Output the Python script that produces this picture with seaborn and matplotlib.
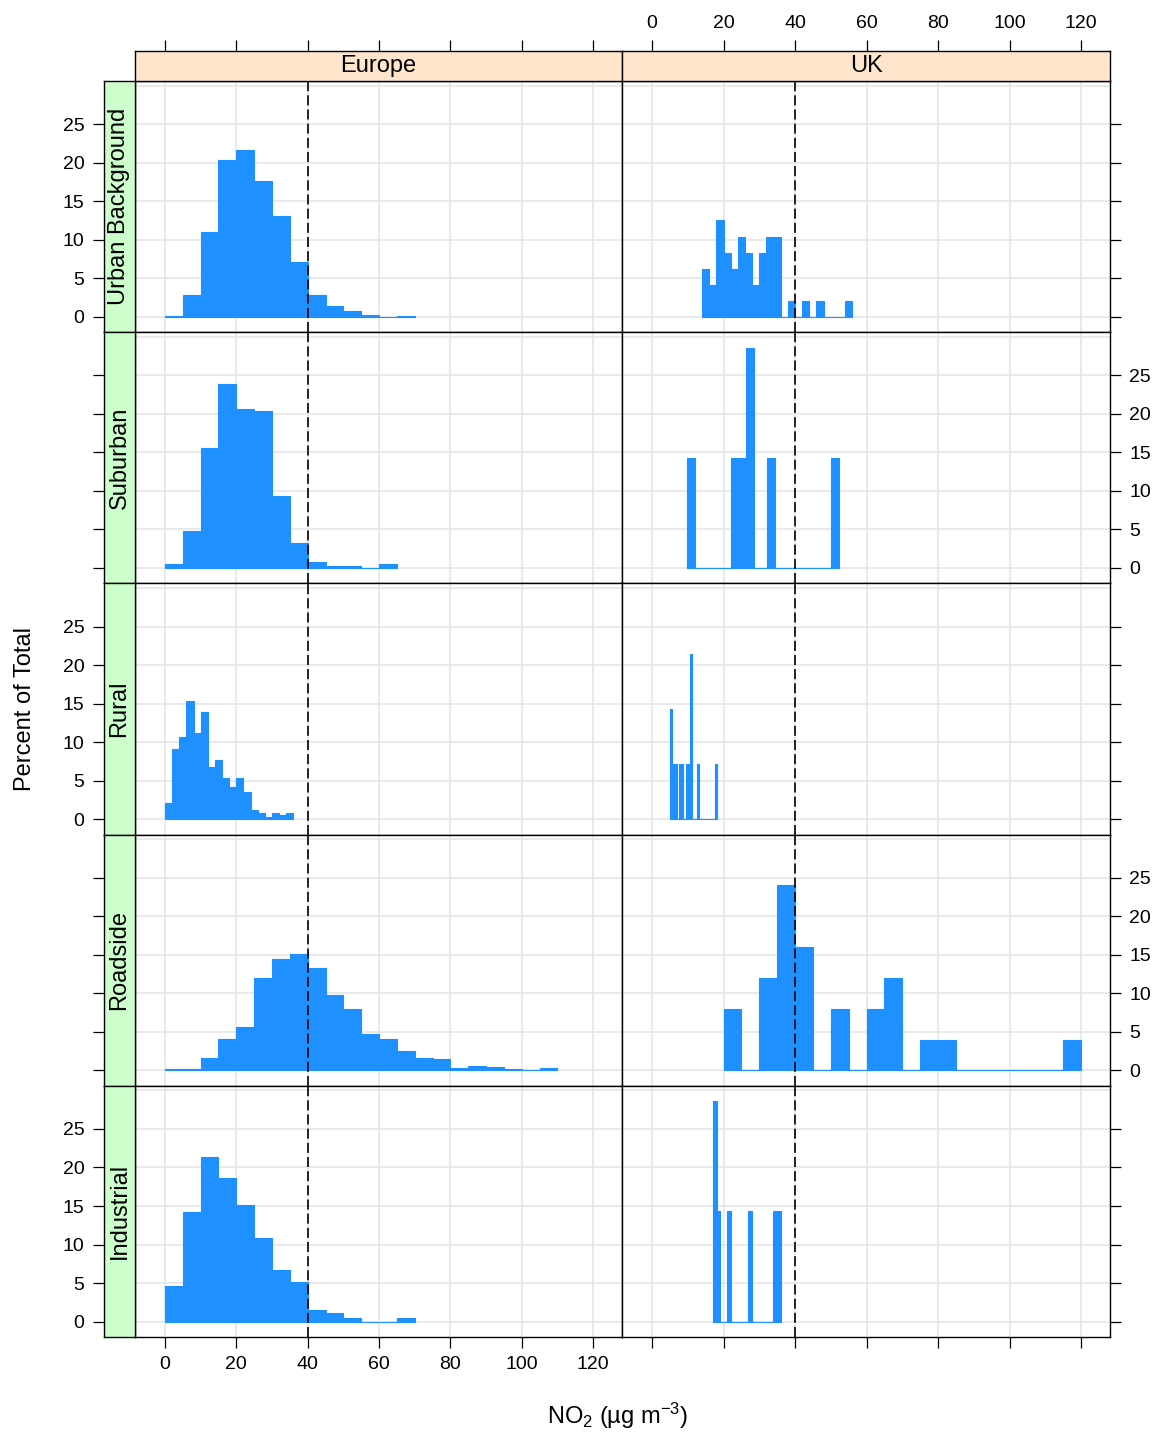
import numpy as np
import pandas as pd
import matplotlib
matplotlib.use("Agg")
import matplotlib.pyplot as plt
import seaborn as sns

sns.set_theme(style="white")
plt.rcParams['font.family'] = ['Liberation Sans', 'DejaVu Sans']
plt.rcParams['mathtext.fontset'] = 'custom'
plt.rcParams['mathtext.rm'] = 'Liberation Sans'
plt.rcParams['mathtext.it'] = 'Liberation Sans:italic'

# ---------------- data ----------------
regions = ["Europe", "UK"]
site_types = ["Urban Background", "Suburban", "Rural", "Roadside", "Industrial"]
x_ticks = [0, 20, 40, 60, 80, 100, 120]
y_ticks = [0, 5, 10, 15, 20, 25]
x_grid = [0, 20, 40, 60, 80, 100, 120]
y_grid = [0, 5, 10, 15, 20, 25, 30]
limit_value = 40

# Europe: bin edges and percent of total
eu_ub_edges = [0, 5, 10, 15, 20, 25, 30, 35, 40, 45, 50, 55, 60, 65, 70]
eu_ub_pct = [0.13, 2.86, 11.0, 20.3, 21.7, 17.6, 13.1, 7.14, 2.86, 1.43, 0.7, 0.26, 0.0, 0.13]

eu_sub_edges = [0, 5, 10, 15, 20, 25, 30, 35, 40, 45, 50, 55, 60, 65]
eu_sub_pct = [0.52, 4.8, 15.6, 23.9, 20.6, 20.4, 9.35, 3.25, 0.78, 0.26, 0.26, 0.0, 0.52]

eu_rur_edges = [0, 2, 4, 6, 8, 10, 12, 14, 16, 18, 20, 22, 24, 26, 28, 30, 32, 34, 36]
eu_rur_pct = [2.08, 9.09, 10.65, 15.3, 11.2, 13.9, 6.75, 7.66, 5.32, 4.16, 5.32, 3.5,
              1.17, 0.78, 0.26, 0.78, 0.52, 0.78]

eu_road_edges = [0, 5, 10, 15, 20, 25, 30, 35, 40, 45, 50, 55, 60, 65, 70, 75, 80,
                 85, 90, 95, 100, 105, 110]
eu_road_pct = [0.17, 0.17, 1.6, 4.07, 5.63, 12.0, 14.46, 15.1, 13.3, 9.78, 7.97, 4.72,
               4.07, 2.51, 1.6, 1.47, 0.3, 0.56, 0.43, 0.17, 0.05, 0.3]

eu_ind_edges = [0, 5, 10, 15, 20, 25, 30, 35, 40, 45, 50, 55, 60, 65, 70]
eu_ind_pct = [4.6, 14.2, 21.3, 18.6, 15.1, 10.8, 6.67, 5.1, 1.47, 1.08, 0.43, 0.0, 0.0, 0.43]

# UK
uk_ub_edges = [14, 16, 18, 20, 22, 24, 26, 28, 30, 32, 34, 36, 38, 40, 42, 44, 46, 48,
               50, 52, 54, 56]
uk_ub_pct = [6.25, 4.17, 12.5, 8.33, 6.25, 10.4, 8.33, 4.17, 8.33, 10.4, 10.4, 0.0,
             2.08, 0.0, 2.08, 0.0, 2.08, 0.0, 0.0, 0.0, 2.08]

uk_sub_edges = [9.86, 12.1, 22.06, 26.2, 28.4, 32.1, 34.4, 50.1, 52.3]
uk_sub_pct = [14.3, 0.0, 14.3, 28.6, 0.0, 14.3, 0.0, 14.3]

uk_rur_edges = [4.96, 5.52, 6.93, 7.49, 8.61, 9.46, 10.58, 11.14, 12.55, 13.1, 17.6, 18.2]
uk_rur_pct = [14.3, 7.14, 0.0, 7.14, 0.0, 7.14, 21.4, 0.0, 7.14, 0.0, 7.14]

uk_road_edges = [20, 25, 30, 35, 40, 45, 50, 55, 60, 65, 70, 75, 85, 115, 120]
uk_road_pct = [8, 0, 12, 24, 16, 0, 8, 0, 8, 12, 0, 4, 0, 4]

uk_ind_edges = [17.04, 18.16, 19.0, 20.97, 22.1, 26.87, 28.0, 33.9, 36.1]
uk_ind_pct = [28.6, 14.3, 0.0, 14.3, 0.0, 14.3, 0.0, 14.3]

panels = {
    ("Europe", "Urban Background"): (eu_ub_edges, eu_ub_pct),
    ("Europe", "Suburban"): (eu_sub_edges, eu_sub_pct),
    ("Europe", "Rural"): (eu_rur_edges, eu_rur_pct),
    ("Europe", "Roadside"): (eu_road_edges, eu_road_pct),
    ("Europe", "Industrial"): (eu_ind_edges, eu_ind_pct),
    ("UK", "Urban Background"): (uk_ub_edges, uk_ub_pct),
    ("UK", "Suburban"): (uk_sub_edges, uk_sub_pct),
    ("UK", "Rural"): (uk_rur_edges, uk_rur_pct),
    ("UK", "Roadside"): (uk_road_edges, uk_road_pct),
    ("UK", "Industrial"): (uk_ind_edges, uk_ind_pct),
}

# ---------------- layout ----------------
W, H = 1162, 1432
BLUE = '#1e90ff'
GRID = '#e6e6e6'
TOP_STRIP = '#ffe5cc'
LEFT_STRIP = '#ccffcc'
XLIM = (-8.4, 128.1)
YLIM = (-2.0, 30.6)
col_x = [(135, 622), (622, 1110)]
row_top0, row_h = 81, 251.2
strip_top_h = 30
left_strip_x, left_strip_w = 104, 31
TICK_FS = 14
LAB_FS = 17
STRIP_FS = 17
TLEN = 8

fig = plt.figure(figsize=(W / 100, H / 100), dpi=100)


def rect(x0, x1, y0, y1):
    return [x0 / W, 1 - y1 / H, (x1 - x0) / W, (y1 - y0) / H]


def style_spines(ax):
    for s in ax.spines.values():
        s.set_visible(True)
        s.set_color('black')
        s.set_linewidth(1.0)


for r, site in enumerate(site_types):
    y0 = row_top0 + r * row_h
    y1 = y0 + row_h
    for c, reg in enumerate(regions):
        x0, x1 = col_x[c]
        ax = fig.add_axes(rect(x0, x1, y0, y1))
        ax.set_facecolor('white')
        for gx in x_grid:
            ax.axvline(gx, color=GRID, lw=1.2, zorder=0)
        for gy in y_grid:
            ax.axhline(gy, color=GRID, lw=1.2, zorder=0)
        edges, pct = panels[(reg, site)]
        mids = [(a + b) / 2 for a, b in zip(edges[:-1], edges[1:])]
        df = pd.DataFrame({"no2": mids, "pct": pct})
        sns.histplot(data=df, x="no2", weights="pct", bins=edges, ax=ax,
                     color=BLUE, alpha=1, edgecolor=BLUE, linewidth=0.8, zorder=2)
        ax.axvline(limit_value, color='black', lw=1.2, ls=(0, (6, 2.5)), zorder=3)
        ax.set_xlim(*XLIM)
        ax.set_ylim(*YLIM)
        ax.set_xlabel('')
        ax.set_ylabel('')
        ax.set_xticks(x_ticks)
        ax.set_yticks(y_ticks)
        ax.tick_params(direction='out', length=TLEN, width=0.9, color='black',
                       labelsize=TICK_FS, labelcolor='black', pad=6,
                       left=False, labelleft=False, top=False, labeltop=False,
                       bottom=(r == 4), labelbottom=(r == 4 and c == 0),
                       right=(c == 1), labelright=(c == 1 and r in (1, 3)))
        style_spines(ax)

        # top strips
        if r == 0:
            axt = fig.add_axes(rect(x0, x1, row_top0 - strip_top_h, row_top0))
            axt.set_facecolor(TOP_STRIP)
            axt.set_xlim(*XLIM)
            axt.set_ylim(0, 1)
            axt.set_xticks(x_ticks)
            axt.set_yticks([])
            axt.tick_params(axis='x', direction='out', length=TLEN, width=0.9,
                            color='black', labelsize=TICK_FS, labelcolor='black', pad=6,
                            bottom=False, labelbottom=False, top=True,
                            labeltop=(c == 1))
            axt.text(0.5, 0.5, reg, transform=axt.transAxes, ha='center',
                     va='center', fontsize=STRIP_FS, color='black')
            style_spines(axt)

        # left strips
        if c == 0:
            axs = fig.add_axes(rect(left_strip_x, left_strip_x + left_strip_w, y0, y1))
            axs.set_facecolor(LEFT_STRIP)
            axs.set_ylim(*YLIM)
            axs.set_xlim(0, 1)
            axs.set_xticks([])
            axs.set_yticks(y_ticks)
            axs.tick_params(axis='y', direction='out', length=TLEN, width=0.9,
                            color='black', labelsize=TICK_FS, labelcolor='black', pad=6,
                            left=True, labelleft=(r % 2 == 0), right=False,
                            labelright=False)
            axs.text(0.5, 0.5, site, transform=axs.transAxes, ha='center',
                     va='center', rotation=90, fontsize=STRIP_FS, color='black')
            style_spines(axs)

fig.text(25 / W, 1 - 709 / H, 'Percent of Total', rotation=90, ha='center',
         va='center', fontsize=LAB_FS, color='black')
fig.text(618 / W, 1 - 1416 / H, r'NO$_2$ (µg m$^{-3}$)', ha='center', va='center',
         fontsize=LAB_FS, color='black')

fig.savefig('out.png', dpi=100)
